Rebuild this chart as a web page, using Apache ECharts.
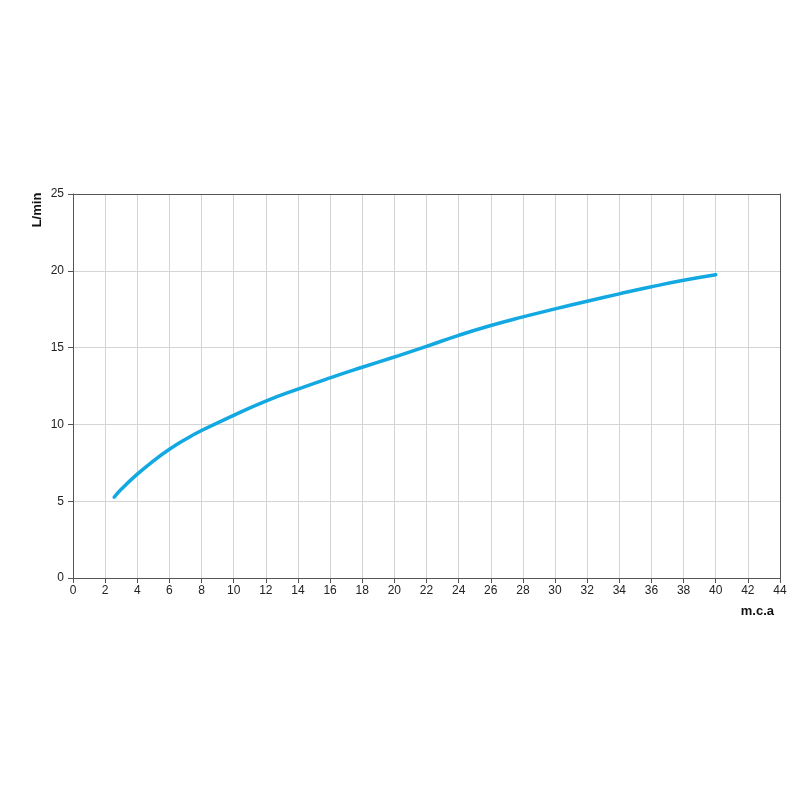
<!DOCTYPE html>
<html>
<head>
<meta charset="utf-8">
<script src="https://cdn.jsdelivr.net/npm/echarts@6/dist/echarts.min.js"></script>
<style>html,body{margin:0;padding:0;background:#fff;}#c{width:800px;height:800px;}</style>
</head>
<body>
<div id="c"></div>
<script>
var pressure = [2.56, 3, 4, 5, 6, 7, 8, 10, 12, 14, 16, 18, 20, 22, 24, 26, 28, 30, 32, 34, 36, 38, 40];
var flow = [5.26, 5.78, 6.76, 7.62, 8.38, 9.03, 9.6, 10.59, 11.52, 12.3, 13.03, 13.72, 14.39, 15.08, 15.8, 16.44, 17.0, 17.52, 18.02, 18.5, 18.96, 19.38, 19.74];
var xAxisName = 'm.c.a';
var yAxisName = 'L/min';

var data = pressure.map(function (p, i) { return [p, flow[i]]; });
var chart = echarts.init(document.getElementById('c'), null, {renderer: 'canvas'});
var font = 'Liberation Sans, Arial, sans-serif';
function frameAxis(pos, max) {
  return {
    type: 'value', position: pos, min: 0, max: max,
    axisLine: {show: true, onZero: false, lineStyle: {color: '#555'}},
    axisTick: {show: false}, axisLabel: {show: false}, splitLine: {show: false}
  };
}
chart.setOption({
  animation: false,
  grid: {left: 73, right: 20, top: 194, bottom: 222},
  xAxis: [{
    type: 'value', min: 0, max: 44, interval: 2,
    axisLine: {show: true, onZero: false, lineStyle: {color: '#555'}},
    axisTick: {show: true, length: 5, lineStyle: {color: '#555'}},
    axisLabel: {color: '#222', fontFamily: font, fontSize: 12, margin: 7},
    splitLine: {show: true, lineStyle: {color: '#d4d4d4'}}
  }, frameAxis('top', 44)],
  yAxis: [{
    type: 'value', min: 0, max: 25, interval: 5,
    axisLine: {show: true, onZero: false, lineStyle: {color: '#555'}},
    axisTick: {show: true, length: 5, lineStyle: {color: '#555'}},
    axisLabel: {color: '#222', fontFamily: font, fontSize: 12, margin: 9},
    splitLine: {show: true, lineStyle: {color: '#d4d4d4'}}
  }, frameAxis('right', 25)],
  graphic: [
    {type: 'text', x: 37, y: 210, rotation: Math.PI / 2,
     style: {text: yAxisName, font: 'bold 13px ' + font, fill: '#111', align: 'center', verticalAlign: 'middle'}},
    {type: 'text', x: 774, y: 611,
     style: {text: xAxisName, font: 'bold 13px ' + font, fill: '#111', align: 'right', verticalAlign: 'middle'}}
  ],
  series: [{
    type: 'line', data: data, smooth: true, showSymbol: false,
    lineStyle: {color: '#12a8e2', width: 3.5, cap: 'round'}
  }]
});
</script>
</body>
</html>
